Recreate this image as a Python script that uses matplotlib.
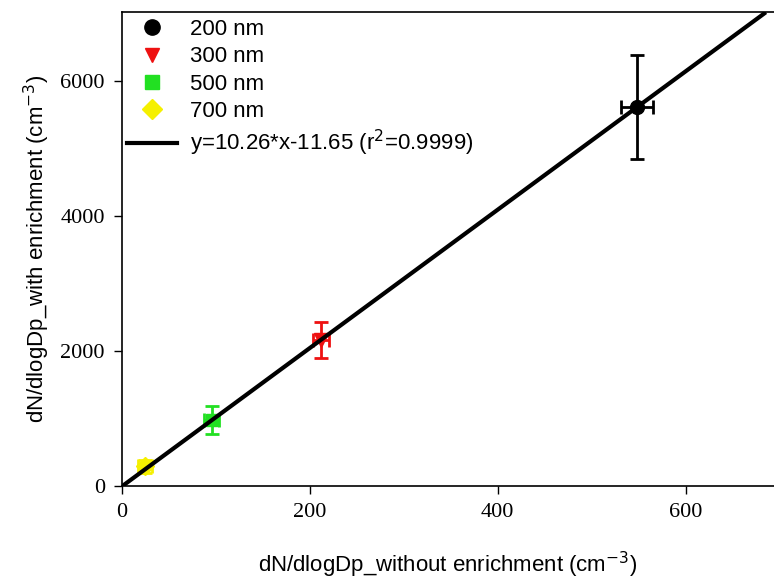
import matplotlib
matplotlib.use("Agg")
import matplotlib.pyplot as plt
from matplotlib.lines import Line2D
import numpy as np

labels = ["200 nm", "300 nm", "500 nm", "700 nm"]
x_vals = [548, 212, 96, 25]
y_vals = [5610, 2156, 979, 290]
x_err = [17, 8.5, 8, 7.5]
y_err = [770, 267, 212, 100]
colors = ["#000000", "#ee1111", "#22e022", "#f5f000"]
markers = ["o", "v", "s", "D"]
msizes = [10, 10, 9, 9]
leg_msizes = [11, 10, 10, 10]

slope, intercept = 10.26, -11.65
fit_label = r"y=10.26*x-11.65 (r$^2$=0.9999)"

fig = plt.figure(figsize=(7.74, 5.84), dpi=100)
ax = fig.add_axes([0.157, 0.168, 0.843, 0.811])

for xv, yv, xe, ye, c, m, ms in zip(x_vals, y_vals, x_err, y_err, colors, markers, msizes):
    ax.errorbar(xv, yv, xerr=xe, yerr=ye, fmt=m, color=c, ecolor=c,
                markersize=ms, elinewidth=2, capsize=5, capthick=2, zorder=3)

xlim = (0, 694)
ylim = (0, 7020)
x_end = (ylim[1] - intercept) / slope
xx = np.array([0, x_end])
ax.plot(xx, slope * xx + intercept, color="black", lw=3, zorder=4, solid_capstyle="butt")

ax.set_xlim(*xlim)
ax.set_ylim(*ylim)
ax.set_xticks([0, 200, 400, 600])
ax.set_yticks([0, 2000, 4000, 6000])
ax.tick_params(direction="out", length=6, width=1, labelsize=16, pad=6)
for lab in ax.get_xticklabels() + ax.get_yticklabels():
    lab.set_family("Liberation Serif")
ax.spines["right"].set_visible(False)
for s in ["left", "bottom", "top"]:
    ax.spines[s].set_linewidth(1.2)

ax.set_xlabel(r"dN/dlogDp_without enrichment (cm$^{-3}$)", family="Liberation Sans",
              fontsize=16, labelpad=20)
ax.set_ylabel(r"dN/dlogDp_with enrichment (cm$^{-3}$)", family="Liberation Sans",
              fontsize=16, labelpad=6)

handles = [Line2D([], [], ls="none", marker=m, color=c, markersize=ms)
           for m, c, ms in zip(markers, colors, leg_msizes)]
handles.append(Line2D([], [], color="black", lw=3))
leg = ax.legend(handles, labels + [fit_label], loc="upper left", frameon=False,
                bbox_to_anchor=(0.0, 0.997), borderaxespad=0.0, borderpad=0.25,
                handlelength=2.25, handletextpad=0.58, labelspacing=0.28,
                prop={"family": "Liberation Sans", "size": 16})

fig.savefig("out.png", dpi=100)
